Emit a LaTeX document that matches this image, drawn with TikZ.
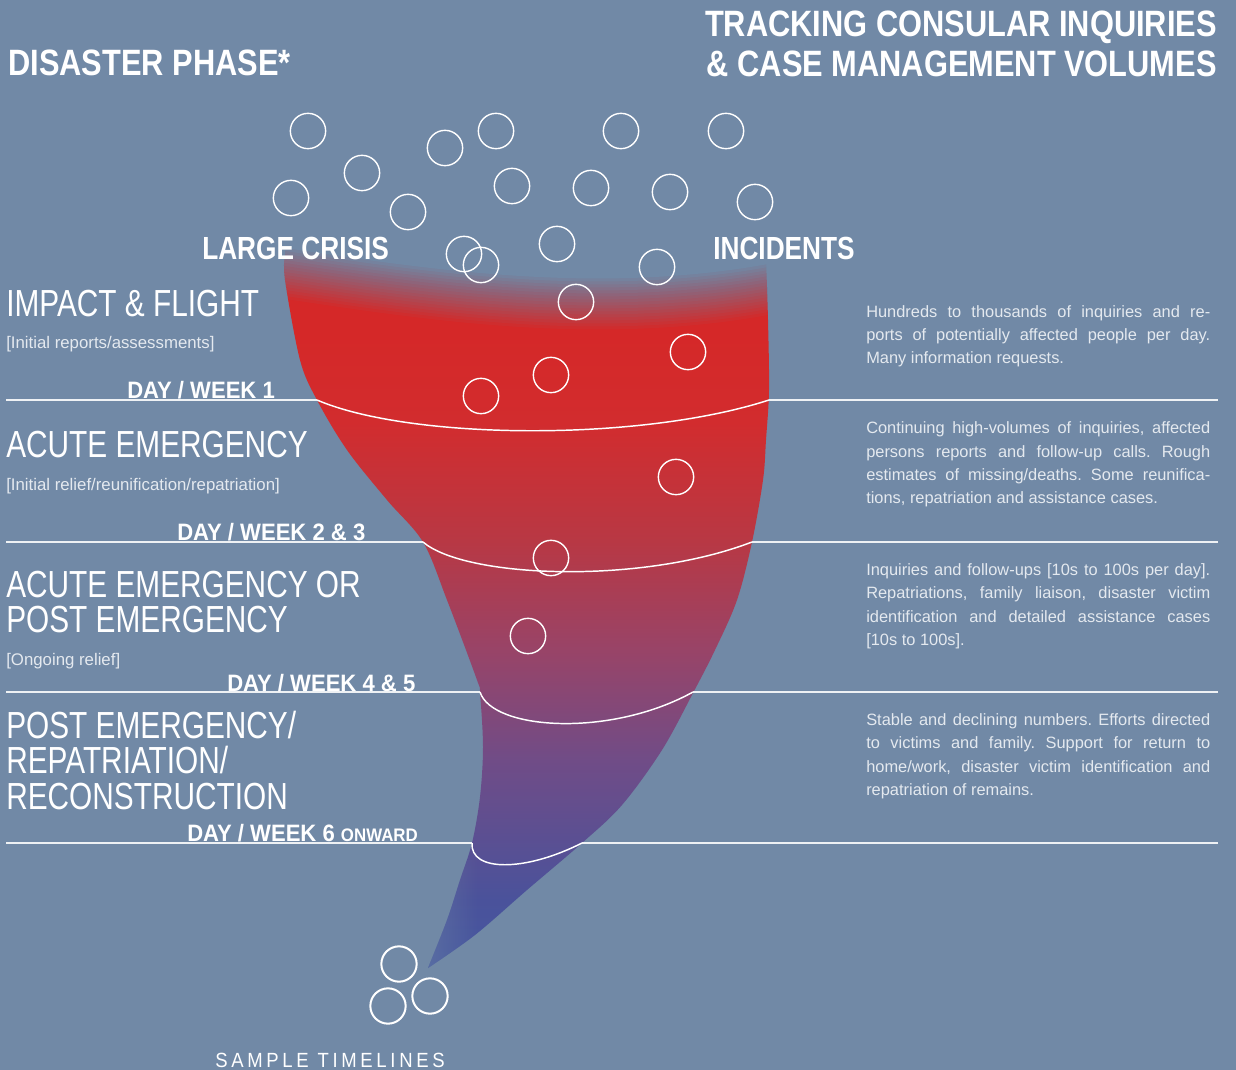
\documentclass[tikz,border=0pt]{standalone}
\usepackage{fontspec}
\usetikzlibrary{fadings}
\setmainfont{Liberation Sans}
\newfontfamily\hfont{Liberation Sans}[FakeStretch=0.79]
\newfontfamily\bfont{Liberation Sans}[FakeStretch=0.84]
\newfontfamily\mfont{Liberation Sans}[FakeStretch=0.82]
\newfontfamily\dfont{Liberation Sans}[FakeStretch=0.93]
\newfontfamily\spfont{Liberation Sans}[FakeStretch=0.9,LetterSpace=18]
\definecolor{bg}{RGB}{113,137,166}
\definecolor{cR}{RGB}{213,40,40}
\definecolor{c420}{RGB}{210,44,46}
\definecolor{c540}{RGB}{184,56,68}
\definecolor{c650}{RGB}{152,68,104}
\definecolor{c760}{RGB}{112,76,135}
\definecolor{c900}{RGB}{74,82,155}
\definecolor{cT}{RGB}{70,88,160}
\definecolor{ptext}{RGB}{228,233,239}
\pgfdeclareverticalshading{funnelshade}{100bp}{color(0bp)=(cT); color(25bp)=(cT); color(29.6bp)=(c900); color(39.1bp)=(c760); color(46.5bp)=(c650); color(54bp)=(c540); color(62.1bp)=(c420); color(68.2bp)=(cR); color(100bp)=(cR)}
\newcommand\jline[1]{\makebox[258pt][s]{#1}}
\def\funnelpath{(290,232) -- (752,232) .. controls (762,232) and (765,245) .. (766,260)
 -- plot[smooth,tension=0.55] coordinates {(766,260)(768,320)(769,390)(766,440)(763,480)(752,542)(737,600)(715,650)(693,693)(662,750)(622,805)(582,843)(527,890)(475,935)(428,968)}
 -- plot[smooth,tension=0.55] coordinates {(428,968)(447,920)(460,880)(472,843)(480,797)(483,747)(480,693)(477,680)(447,600)(423,542)(387,500)(347,450)(317,400)(300,360)(285,280)(285,255)}
 .. controls (285,240) and (287,232) .. (290,232) -- cycle}
\begin{document}
\frenchspacing
\begin{tikzpicture}[x=0.75pt,y=-0.75pt,
  hline/.style={draw=white!88!bg, line width=1.1pt},
  cline/.style={draw=white, line width=1.1pt},
  bub/.style={circle, draw=white, line width=1.05pt, minimum size=26.5pt, inner sep=0pt},
  bubb/.style={bub, line width=1.5pt},
  bighead/.style={font=\bfont\bfseries\fontsize{27.5pt}{30pt}\selectfont, text=white, inner sep=0pt},
  midhead/.style={font=\mfont\bfseries\fontsize{24pt}{26pt}\selectfont, text=white, inner sep=0pt, anchor=base west},
  dayhead/.style={font=\dfont\bfseries\fontsize{17.8pt}{20pt}\selectfont, text=white, inner sep=0pt, anchor=base west},
  phase/.style={font=\hfont\fontsize{28.3pt}{30pt}\selectfont, text=white, inner sep=0pt, anchor=base west},
  small/.style={font=\fontsize{12.6pt}{14pt}\selectfont, text=ptext, inner sep=0pt, anchor=base west},
  para/.style={font=\fontsize{12.3pt}{14pt}\selectfont, text=ptext, inner sep=0pt, anchor=base west}]
\fill[bg] (0,0) rectangle (1236,1070);
\useasboundingbox (0,0) rectangle (1236,1070);
% funnel
\begin{scope}
\clip \funnelpath;
\shade[shading=funnelshade] (270,232) rectangle (790,968);
\fill[bg, opacity=0.45, path fading=east] (424,860) rectangle (478,972);
\end{scope}
% top fade into background
\foreach \k in {1,...,18}{
  \pgfmathsetmacro\dd{27-(\k-1)*3}
  \pgfmathsetmacro\op{1/(19-\k)}
  \fill[bg, opacity=\op, shift={(0,\dd)}] (272,180) -- (272,270) .. controls (420,292) and (600,322) .. (784,285) -- (784,180) -- cycle;
}
% horizontal lines
\draw[hline] (6,400) -- (317,400);
\draw[hline] (769,400) -- (1218,400);
\draw[hline] (6,542) -- (423,542);
\draw[hline] (752,542) -- (1218,542);
\draw[hline] (6,692) -- (480,692);
\draw[hline] (693,692) -- (1218,692);
\draw[hline] (6,843) -- (472,843);
\draw[hline] (582,843) -- (1218,843);
\draw[cline] (317,400) .. controls (410,440) and (640,442) .. (769,400);
\draw[cline] (423,542) .. controls (465,578) and (640,585) .. (752,542);
\draw[cline] (480,692) .. controls (492,730) and (610,738) .. (693,692);
\draw[cline] (472,843) .. controls (470,872) and (525,872) .. (582,843);
% bubbles
\node[bub] (b1) at (308,131) {};
\node[bub] (b2) at (362,173) {};
\node[bub] (b3) at (291,198) {};
\node[bub] (b4) at (445,148) {};
\node[bub] (b5) at (496,131) {};
\node[bub] (b6) at (408,212) {};
\node[bub] (b7) at (512,186) {};
\node[bub] (b8) at (621,131) {};
\node[bub] (b9) at (726,131) {};
\node[bub] (b10) at (591,188) {};
\node[bub] (b11) at (670,192) {};
\node[bub] (b12) at (755,202) {};
\node[bub] (b13) at (464,254) {};
\node[bub] (b14) at (481,265) {};
\node[bub] (b15) at (557,244) {};
\node[bub] (b16) at (657,267) {};
\node[bub] (b17) at (576,302) {};
\node[bub] (b18) at (688,352) {};
\node[bub] (b19) at (551,375) {};
\node[bub] (b20) at (481,396) {};
\node[bub] (b21) at (676,477) {};
\node[bub] (b22) at (551,558) {};
\node[bub] (b23) at (528,636) {};
\node[bubb] (s1) at (399,964) {};
\node[bubb] (s2) at (430,996) {};
\node[bubb] (s3) at (388,1006) {};
% headings
\node[bighead, anchor=base west] (dp) at (8,76) {DISASTER PHASE*};
\node[bighead, anchor=base east] (tr1) at (1217,37) {TRACKING CONSULAR INQUIRIES};
\node[bighead, anchor=base east] (tr2) at (1217,77) {\& CASE MANAGEMENT VOLUMES};
\node[midhead] (lc) at (202,259) {LARGE CRISIS};
\node[midhead] (inc) at (713,259) {INCIDENTS};
% left phases
\node[phase] (ph1) at (6,316) {IMPACT \& FLIGHT};
\node[small] (sm1) at (6,349) {[Initial reports/assessments]};
\node[dayhead] (d1) at (127,398) {DAY / WEEK 1};
\node[phase] (ph2) at (6,457) {ACUTE EMERGENCY};
\node[small] (sm2) at (6,490) {[Initial relief/reunification/repatriation]};
\node[dayhead] (d2) at (177,540) {DAY / WEEK 2 \& 3};
\node[phase] (ph3a) at (6,597) {ACUTE EMERGENCY OR};
\node[phase] (ph3b) at (6,632) {POST EMERGENCY};
\node[small] (sm3) at (6,665) {[Ongoing relief]};
\node[dayhead] (d3) at (227,691) {DAY / WEEK 4 \& 5};
\node[phase] (ph4a) at (6,738) {POST EMERGENCY/};
\node[phase] (ph4b) at (6,773) {REPATRIATION/};
\node[phase] (ph4c) at (6,809) {RECONSTRUCTION};
\node[dayhead] (d4) at (187,841) {DAY / WEEK 6 {\fontsize{13.6pt}{15pt}\selectfont ONWARD}};
\node[font=\spfont\fontsize{15.4pt}{17pt}\selectfont, text=white, inner sep=0pt, anchor=base west] (st) at (215,1067) {SAMPLE TIMELINES};
% right paragraphs
\node[para] (p1a) at (866,317) {\jline{Hundreds to thousands of inquiries and re-}};
\node[para] (p1b) at (866,340) {\jline{ports of potentially affected people per day.}};
\node[para] (p1c) at (866,363) {Many information requests.};
\node[para] (p2a) at (866,433) {\jline{Continuing high-volumes of inquiries, affected}};
\node[para] (p2b) at (866,457) {\jline{persons reports and follow-up calls. Rough}};
\node[para] (p2c) at (866,480) {\jline{estimates of missing/deaths. Some reunifica-}};
\node[para] (p2d) at (866,503) {tions, repatriation and assistance cases.};
\node[para] (p3a) at (866,575) {\jline{Inquiries and follow-ups [10s to 100s per day].}};
\node[para] (p3b) at (866,598) {\jline{Repatriations, family liaison, disaster victim}};
\node[para] (p3c) at (866,622) {\jline{identification and detailed assistance cases}};
\node[para] (p3d) at (866,645) {[10s to 100s].};
\node[para] (p4a) at (866,725) {\jline{Stable and declining numbers. Efforts directed}};
\node[para] (p4b) at (866,748) {\jline{to victims and family. Support for return to}};
\node[para] (p4c) at (866,772) {\jline{home/work, disaster victim identification and}};
\node[para] (p4d) at (866,795) {repatriation of remains.};
\end{tikzpicture}
\end{document}
